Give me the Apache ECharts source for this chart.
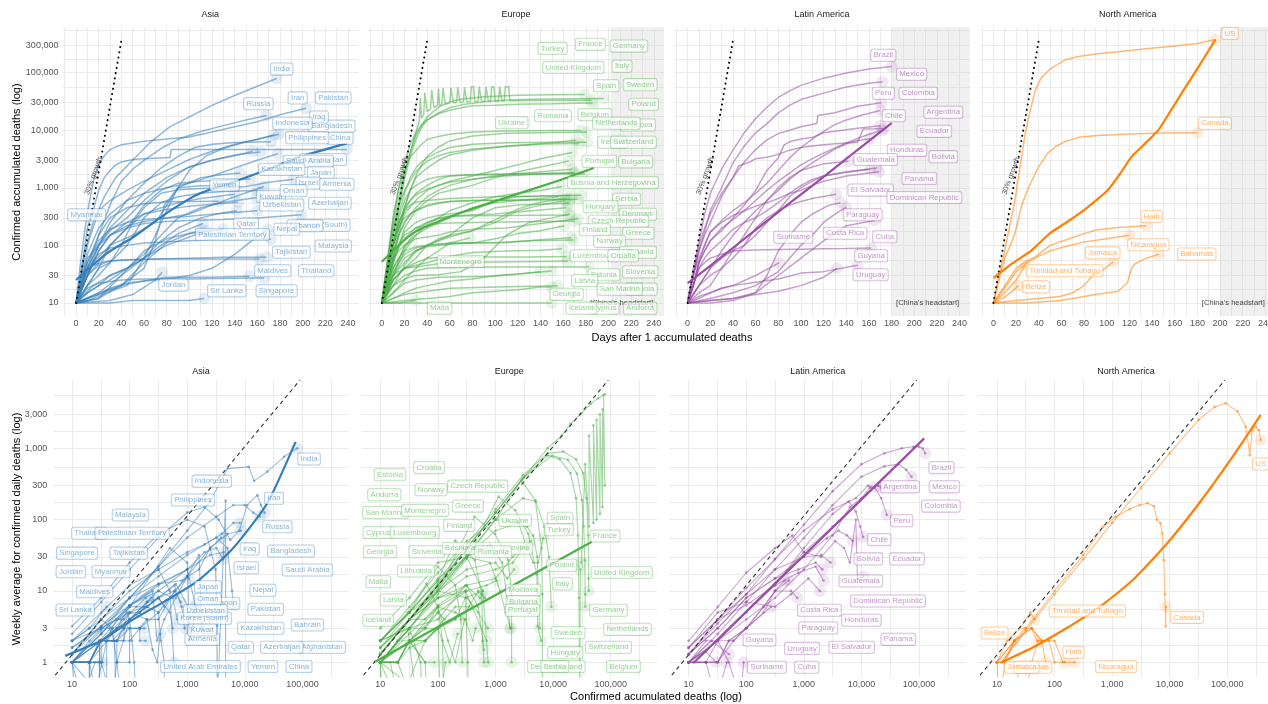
<!DOCTYPE html>
<html><head><meta charset="utf-8">
<script src="https://cdn.jsdelivr.net/npm/echarts@6/dist/echarts.min.js"></script>
<style>html,body{margin:0;padding:0;background:#fff}#c{width:1268px;height:704px}</style>
</head><body><div id="c"></div>
<script>
// ---------------- data ----------------
const REGIONS = ['Asia', 'Europe', 'Latin America', 'North America'];
const TOP_X_TICKS = [0,20,40,60,80,100,120,140,160,180,200,220,240];
const TOP_Y_TICKS = [10,30,100,300,1000,3000,10000,30000,100000,300000];
const BOT_X_TICKS = [10,100,1000,10000,100000];
const BOT_Y_TICKS = [1,3,10,30,100,300,1000,3000];
const GROWTH_LINE = [[0,10],[40,360000]];
const WEEK_LINE = [[5.1,0.66],[90800,9080]];
const HEADSTART_DAY = [null, 202, 180, 200];

// top row: [country, [[days, accumulated deaths], ...]]
const ASIA_TOP = [
 ['Kyrgyzstan', [[0,10],[20,14],[40,20],[60,40],[70,120],[78,500],[90,1000],[110,1080],[140,1100]]],
 ['Qatar', [[0,10],[20,12],[40,20],[60,50],[80,110],[100,160],[130,190]]],
 ['Bahrain', [[0,10],[20,12],[40,30],[60,80],[80,130],[110,180]]],
 ['United Arab Emirates', [[0,10],[10,30],[20,80],[30,150],[45,220],[60,260],[80,300],[100,320],[130,360],[160,400]]],
 ['India', [[0,10],[8,80],[15,250],[25,700],[35,1500],[50,3000],[65,6000],[83,11500],[100,17000],[120,27000],[140,40000],[160,58000],[177,79000]]],
 ['Iran', [[0,10],[4,50],[8,200],[12,600],[16,1500],[20,2500],[25,3600],[30,4600],[40,5600],[60,6400],[80,7000],[100,7600],[120,9300],[140,11500],[160,14000],[180,18500],[203,24000]]],
 ['Russia', [[0,10],[10,40],[20,150],[30,500],[40,1300],[50,2100],[60,3000],[75,4800],[90,6900],[110,9500],[130,12000],[150,15000],[168,18000]]],
 ['Pakistan', [[0,10],[10,40],[20,100],[30,250],[45,600],[60,1200],[75,2200],[90,3500],[105,5000],[120,5700],[140,6100],[172,6300]]],
 ['Iraq', [[0,10],[15,50],[30,100],[50,150],[70,250],[85,700],[100,2000],[115,3600],[130,4800],[150,6300],[179,8500]]],
 ['Indonesia', [[0,10],[10,100],[20,400],[30,600],[45,900],[60,1300],[80,2000],[100,3100],[120,4300],[140,5700],[160,6900],[175,8300]]],
 ['Bangladesh', [[0,10],[10,30],[20,100],[30,200],[45,400],[60,800],[80,1500],[100,2300],[120,3000],[140,3600],[156,4300]]],
 ['Philippines', [[0,10],[10,70],[20,200],[30,350],[45,600],[60,800],[80,1000],[100,1200],[120,1600],[140,2200],[160,3000],[178,3900]]],
 ['China', [[0,10],[5,40],[10,200],[15,400],[20,900],[25,1500],[30,2000],[35,2500],[40,2800],[50,3100],[60,3200],[70,3270],[83,3340],[84,4640],[239,4640]]],
 ['Saudi Arabia', [[0,10],[10,40],[20,100],[30,180],[45,300],[60,600],[80,1300],[100,2300],[120,3000],[140,3700],[163,4200]]],
 ['Afghanistan', [[0,10],[10,30],[20,50],[30,100],[45,200],[60,500],[75,900],[90,1200],[110,1300],[130,1350],[154,1420]]],
 ['Kazakhstan', [[0,10],[15,20],[30,30],[45,40],[60,60],[70,150],[80,400],[90,1000],[110,1500],[130,1700],[145,1800]]],
 ['Japan', [[0,10],[10,20],[20,40],[30,50],[40,100],[50,250],[60,450],[75,800],[90,920],[110,970],[130,1000],[150,1050],[170,1250],[192,1400]]],
 ['Israel', [[0,10],[10,50],[20,120],[30,190],[45,250],[60,280],[80,300],[100,350],[120,500],[140,700],[166,1050]]],
 ['Armenia', [[0,10],[10,20],[20,30],[30,50],[45,100],[60,300],[75,550],[90,700],[110,800],[130,860],[160,900]]],
 ['Yemen', [[0,10],[10,50],[20,150],[30,300],[45,450],[60,530],[80,570],[100,580],[126,585]]],
 ['Oman', [[0,10],[10,20],[20,40],[30,100],[45,200],[60,350],[75,450],[90,550],[110,650],[140,770]]],
 ['Kuwait', [[0,10],[10,30],[20,80],[30,150],[45,250],[60,350],[80,420],[100,480],[120,520],[143,560]]],
 ['Uzbekistan', [[0,10],[10,11],[20,13],[30,16],[45,20],[60,60],[75,120],[90,200],[110,300],[130,370],[142,400]]],
 ['Azerbaijan', [[0,10],[10,15],[20,20],[30,30],[45,40],[60,70],[75,150],[90,300],[110,450],[130,560],[159,670]]],
 ['Korea (South)', [[0,10],[10,60],[20,100],[30,150],[45,200],[60,240],[80,260],[100,270],[130,280],[160,300],[199,340]]],
 ['Lebanon', [[0,10],[10,18],[20,22],[40,25],[60,26],[80,26],[100,30],[120,40],[140,70],[155,120],[169,190]]],
 ['Nepal', [[0,10],[10,15],[20,20],[30,25],[45,40],[60,60],[75,100],[90,160],[112,240]]],
 ['Palestinian Territory', [[0,10],[20,15],[40,30],[60,60],[80,100],[100,140],[115,180]]],
 ['Malaysia', [[0,10],[10,40],[20,70],[30,90],[45,100],[60,110],[80,115],[100,120],[120,125],[150,127],[172,128]]],
 ['Tajikistan', [[0,10],[8,30],[15,45],[25,52],[40,55],[70,58],[100,60],[130,62],[168,62]]],
 ['Thailand', [[0,10],[10,30],[20,45],[30,54],[50,57],[80,58],[120,58],[162,58]]],
 ['Maldives', [[0,10],[20,15],[40,20],[60,24],[80,28],[120,28],[153,29]]],
 ['Singapore', [[0,10],[10,12],[20,14],[30,18],[40,21],[50,23],[60,24],[80,26],[100,26],[150,27],[166,27]]],
 ['Jordan', [[0,10],[30,11],[50,14],[70,25],[76,34]]],
 ['Sri Lanka', [[0,10],[30,10],[50,11],[80,11],[100,11],[113,12]]],
 ['Myanmar', [[0,10],[3,15],[6,25],[8,40]]]
];
const EUROPE_TOP = [
 ['United Kingdom', [[0,10],[5,50],[10,230],[15,700],[20,1800],[25,4000],[30,8000],[35,12000],[40,17000],[50,25000],[60,31000],[70,34500],[90,38000],[120,40500],[150,41300],[179,41600]]],
 ['Italy', [[0,10],[5,30],[10,150],[15,450],[20,1400],[25,3400],[30,6800],[35,11000],[40,15000],[50,20000],[60,24500],[70,27500],[90,31000],[120,34000],[150,34900],[196,35500]]],
 ['France', [[0,10],[5,40],[10,150],[15,500],[20,1700],[25,4200],[30,9000],[33,14000],[34,36000],[35,16000],[37,19000],[38,45000],[39,45000],[40,21000],[43,23500],[44,50000],[45,50000],[46,25000],[49,26500],[50,53000],[51,27000],[53,28000],[54,54000],[55,54000],[56,28500],[60,29500],[61,55000],[62,55000],[63,30000],[66,30300],[67,56000],[68,56000],[69,30600],[72,30800],[73,56000],[74,56000],[75,31000],[78,31200],[79,57000],[81,57000],[82,31400],[85,31500],[86,57000],[87,57000],[88,31600],[91,31700],[92,57000],[93,57000],[94,31800],[96,31900],[97,57000],[99,57000],[100,32000],[103,32100],[104,57000],[105,57000],[106,32200],[108,32300],[109,57000],[112,57000],[113,32400],[140,32800],[185,33200]]],
 ['Spain', [[0,10],[5,50],[10,300],[15,1000],[20,2700],[25,5700],[30,9000],[35,12400],[40,15200],[50,19300],[60,22200],[70,24500],[80,26600],[100,27100],[120,28300],[150,28700],[186,29700]]],
 ['Belgium', [[0,10],[5,60],[10,300],[15,1000],[20,2000],[25,3400],[30,4400],[35,5700],[40,6900],[50,7800],[60,8500],[80,9300],[110,9700],[150,9850],[176,9900]]],
 ['Germany', [[0,10],[5,20],[10,60],[15,150],[20,450],[25,900],[30,1600],[35,2500],[40,3500],[50,5100],[60,6500],[80,7900],[110,8800],[150,9100],[181,9300]]],
 ['Netherlands', [[0,10],[5,40],[10,100],[15,350],[20,800],[25,1500],[30,2200],[35,2800],[40,3300],[50,4200],[60,5000],[80,5700],[110,6050],[150,6150],[181,6200]]],
 ['Sweden', [[0,10],[5,25],[10,70],[15,200],[20,450],[25,900],[30,1500],[40,2200],[50,3000],[60,3700],[80,4500],[110,5300],[140,5750],[174,5850]]],
 ['Turkey', [[0,10],[5,50],[10,200],[15,500],[20,900],[25,1300],[30,1900],[40,2900],[50,3600],[60,4100],[80,4700],[110,5200],[140,5800],[171,6700]]],
 ['Romania', [[0,10],[5,30],[10,100],[15,200],[20,350],[30,600],[40,900],[50,1100],[60,1300],[80,1600],[100,2000],[120,2500],[140,3200],[168,4100]]],
 ['Ukraine', [[0,10],[5,20],[10,50],[15,100],[20,200],[30,400],[40,600],[50,800],[60,900],[80,1100],[100,1500],[120,1900],[140,2300],[165,2900]]],
 ['Poland', [[0,10],[5,20],[10,60],[15,150],[20,250],[30,450],[40,700],[50,900],[60,1100],[80,1400],[100,1600],[120,1750],[140,1900],[168,2100]]],
 ['Ireland', [[0,10],[5,30],[10,100],[15,250],[20,400],[25,600],[30,800],[40,1100],[50,1400],[60,1600],[80,1700],[110,1750],[140,1775],[170,1780]]],
 ['Switzerland', [[0,10],[5,30],[10,100],[15,300],[20,600],[25,900],[30,1100],[40,1400],[50,1550],[60,1620],[80,1660],[110,1690],[140,1720],[179,1760]]],
 ['Portugal', [[0,10],[5,30],[10,100],[15,250],[20,450],[25,600],[30,750],[40,950],[50,1100],[60,1250],[80,1400],[100,1550],[120,1650],[140,1750],[170,1840]]],
 ['Moldova', [[0,10],[10,30],[20,80],[30,150],[40,230],[50,300],[60,400],[80,550],[100,700],[120,800],[140,900],[159,1050]]],
 ['Bulgaria', [[0,10],[10,20],[20,45],[30,80],[40,100],[50,120],[60,140],[80,180],[100,280],[120,430],[140,560],[162,650]]],
 ['Bosnia and Herzegovina', [[0,10],[10,25],[20,40],[30,60],[40,100],[50,130],[60,150],[80,180],[100,250],[120,400],[140,500],[162,600]]],
 ['Serbia', [[0,10],[5,20],[10,50],[15,100],[20,170],[30,250],[40,300],[50,330],[60,350],[80,400],[100,600],[120,700],[140,720],[167,735]]],
 ['Hungary', [[0,10],[5,30],[10,80],[15,150],[20,250],[25,350],[30,400],[40,500],[50,550],[60,580],[80,600],[110,610],[140,620],[166,630]]],
 ['Denmark', [[0,10],[5,40],[10,100],[15,200],[20,300],[25,350],[30,400],[40,480],[50,540],[60,580],[80,600],[110,610],[140,620],[173,630]]],
 ['Austria', [[0,10],[5,30],[10,100],[15,250],[20,400],[25,500],[30,560],[40,600],[60,650],[100,700],[140,720],[176,745]]],
 ['Czech Republic', [[0,10],[5,20],[10,50],[15,90],[20,130],[30,200],[40,250],[50,290],[60,320],[80,340],[100,350],[120,380],[140,410],[163,450]]],
 ['Finland', [[0,10],[5,20],[10,40],[15,60],[20,90],[30,180],[40,250],[50,300],[60,320],[80,328],[110,330],[140,334],[165,336]]],
 ['Greece', [[0,10],[5,30],[10,60],[15,80],[20,100],[30,130],[40,140],[50,150],[60,170],[80,190],[110,200],[140,240],[173,290]]],
 ['Norway', [[0,10],[5,20],[10,60],[15,100],[20,150],[30,200],[40,220],[50,240],[60,245],[80,250],[110,255],[140,260],[170,264]]],
 ['Albania', [[0,10],[10,20],[20,26],[30,30],[50,31],[70,35],[90,60],[110,150],[130,250],[150,300],[166,350]]],
 ['North Macedonia', [[0,10],[10,30],[20,60],[30,80],[40,100],[60,150],[80,300],[100,450],[120,500],[140,520],[165,540]]],
 ['Belarus', [[0,10],[10,30],[20,100],[30,150],[40,200],[60,300],[80,450],[100,550],[120,600],[156,700]]],
 ['Croatia', [[0,10],[10,30],[20,50],[30,80],[40,95],[60,105],[80,110],[100,130],[120,160],[140,180],[161,220]]],
 ['Luxembourg', [[0,10],[5,20],[10,40],[15,60],[20,80],[30,95],[40,100],[50,105],[70,110],[100,112],[130,120],[169,124]]],
 ['Slovenia', [[0,10],[5,20],[10,35],[15,50],[20,70],[30,90],[40,100],[60,110],[80,110],[110,111],[140,125],[167,135]]],
 ['Lithuania', [[0,10],[5,15],[10,25],[20,40],[30,45],[40,50],[60,65],[80,75],[110,80],[140,82],[159,87]]],
 ['Estonia', [[0,10],[5,15],[10,25],[20,40],[30,50],[40,60],[60,63],[100,63],[130,63],[163,64]]],
 ['Montenegro', [[0,10],[10,15],[20,25],[30,40],[40,60],[50,80],[60,110],[78,135]]],
 ['Latvia', [[0,10],[10,12],[20,15],[30,18],[40,20],[60,24],[80,26],[100,30],[120,32],[140,35]]],
 ['San Marino', [[0,10],[5,15],[10,20],[15,25],[20,30],[30,36],[40,40],[60,41],[100,42],[150,42],[183,42]]],
 ['Andorra', [[0,10],[5,20],[10,30],[15,35],[20,40],[30,42],[50,48],[80,51],[120,52],[164,53]]],
 ['Slovakia', [[0,10],[10,15],[20,22],[30,25],[50,28],[100,29],[150,36]]],
 ['Cyprus', [[0,10],[10,12],[20,14],[30,15],[60,18],[100,19],[155,20]]],
 ['Georgia', [[0,10],[20,11],[40,12],[60,13],[80,15],[100,16],[120,17],[140,19],[150,19]]],
 ['Malta', [[0,10],[15,10],[30,11]]],
 ['Iceland', [[0,10],[50,10],[100,10],[150,10]]]
];
const LATAM_TOP = [
 ['Brazil', [[0,10],[5,40],[10,110],[15,350],[20,800],[25,1300],[30,2100],[40,4500],[50,9000],[60,16000],[70,25000],[80,37000],[90,48000],[100,60000],[120,80000],[140,98000],[160,115000],[180,128000]]],
 ['Mexico', [[0,10],[5,30],[10,80],[15,170],[20,400],[30,1000],[40,2700],[50,5300],[60,9000],[70,13000],[80,20000],[90,27000],[100,34000],[120,44000],[140,56000],[160,65000],[172,69000]]],
 ['Peru', [[0,10],[5,30],[10,80],[15,150],[20,250],[30,700],[40,1500],[50,2800],[60,4600],[70,6800],[80,8700],[90,10000],[100,11500],[114,13000],[115,18000],[130,20000],[150,26000],[171,30000]]],
 ['Colombia', [[0,10],[5,20],[10,50],[15,100],[20,170],[30,270],[40,400],[50,550],[60,800],[70,1200],[80,2000],[90,3300],[100,5000],[110,7000],[120,9500],[130,12500],[140,15000],[155,18500],[170,22000]]],
 ['Argentina', [[0,10],[5,20],[10,50],[15,80],[20,120],[30,200],[40,280],[50,400],[60,600],[70,900],[80,1300],[90,1800],[100,2500],[110,3200],[120,4000],[130,4900],[140,6000],[150,7200],[160,8500],[172,10000]]],
 ['Chile', [[0,10],[5,20],[10,50],[15,80],[20,120],[30,180],[40,300],[50,500],[60,900],[70,2000],[80,3300],[85,5500],[90,6300],[100,7000],[110,7500],[120,9000],[130,9600],[140,10200],[150,10800],[160,11300],[170,11900]]],
 ['Ecuador', [[0,10],[5,30],[10,100],[15,200],[20,350],[30,800],[40,1500],[45,2400],[55,2800],[60,3200],[70,3400],[80,3800],[90,4500],[100,5000],[110,5300],[120,5600],[130,5800],[140,6000],[150,6200],[155,10500],[165,10600],[173,10700]]],
 ['Bolivia', [[0,10],[10,20],[20,40],[30,80],[40,150],[50,250],[60,400],[70,600],[80,900],[90,1400],[100,2000],[110,2700],[120,3600],[130,4700],[140,5800],[150,6600],[161,7100]]],
 ['Guatemala', [[0,10],[10,20],[20,30],[30,40],[40,80],[50,150],[60,300],[70,600],[80,1000],[90,1500],[100,2000],[110,2300],[120,2600],[142,2900]]],
 ['Honduras', [[0,10],[10,20],[20,40],[30,60],[40,80],[50,100],[60,150],[70,250],[80,400],[90,700],[100,1000],[110,1300],[120,1600],[140,1850],[161,2100]]],
 ['Panama', [[0,10],[5,20],[10,40],[15,60],[20,80],[30,120],[40,190],[50,250],[60,300],[70,400],[80,550],[90,800],[100,1100],[110,1400],[120,1600],[140,1900],[167,2200]]],
 ['Dominican Republic', [[0,10],[5,30],[10,60],[15,100],[20,170],[30,250],[40,330],[50,400],[60,480],[70,550],[80,650],[90,800],[100,900],[110,1100],[120,1300],[140,1600],[169,1900]]],
 ['El Salvador', [[0,10],[10,15],[20,20],[30,40],[40,60],[50,100],[60,200],[70,300],[80,400],[90,500],[100,580],[110,650],[131,770]]],
 ['Venezuela', [[0,10],[20,10],[40,11],[60,15],[80,30],[100,60],[120,120],[140,220],[165,270]]],
 ['Paraguay', [[0,10],[20,12],[40,15],[60,20],[80,35],[90,60],[100,100],[110,150],[120,250],[130,350],[140,460]]],
 ['Costa Rica', [[0,10],[20,11],[40,12],[60,15],[70,30],[80,80],[90,150],[100,250],[110,350],[125,500],[135,550]]],
 ['Cuba', [[0,10],[5,20],[10,40],[15,50],[20,60],[30,70],[40,80],[60,83],[80,85],[100,86],[120,87],[140,88],[162,90]]],
 ['Suriname', [[0,10],[10,13],[20,15],[30,18],[40,20],[60,30],[81,50]]],
 ['Guyana', [[0,10],[20,11],[40,12],[60,14],[80,16],[100,20],[120,28],[132,40]]],
 ['Uruguay', [[0,10],[10,12],[20,15],[30,18],[40,20],[60,23],[80,26],[100,33],[120,35],[150,45]]]
];
const NAMER_TOP = [
 ['US', [[0,10],[5,30],[10,80],[15,250],[19,600],[22,1500],[25,3500],[28,8700],[32,20000],[37,50000],[42,80000],[50,115000],[63,165000],[75,190000],[92,212000],[110,230000],[137,262000],[160,290000],[180,320000],[196,376000]]],
 ['Canada', [[0,10],[5,25],[10,60],[15,100],[19,160],[25,500],[30,900],[34,1350],[40,2300],[48,4000],[55,5200],[63,6300],[75,7500],[92,8100],[120,8600],[150,8900],[180,9000]]],
 ['Haiti', [[0,10],[10,20],[20,40],[30,55],[37,63],[50,100],[63,123],[80,160],[92,186],[110,205],[135,220]]],
 ['Nicaragua', [[0,10],[10,18],[20,35],[30,50],[40,65],[50,80],[63,95],[80,115],[100,130],[120,150]]],
 ['Bahamas', [[0,10],[30,10],[59,11],[70,12],[90,14],[110,16],[118,22],[122,40],[125,48],[135,60],[146,70]]],
 ['Jamaica', [[0,10],[20,11],[40,12],[59,13],[70,15],[80,20],[87,29],[95,35],[106,52]]],
 ['Trinidad and Tobago', [[0,10],[10,15],[20,25],[28,45]]],
 ['Belize', [[0,10],[8,12],[15,15],[22,20]]]
];
// smoothed regional trends, top row
const ASIA_TOP_TREND = [[0,25],[27,72],[51,141],[80,363],[109,794],[139,1260],[168,2040],[198,3470],[239,5900]];
const EUROPE_TOP_TREND = [[0,52],[28,165],[69,365],[113,710],[157,1350],[187,2200]];
const LATAM_TOP_TREND = [[0,22],[30,63],[62,200],[90,540],[120,1550],[150,4570],[180,13200]];
const NAMER_TOP_TREND = [[0,27],[17,49],[34,83],[50,163],[63,240],[80,410],[101,912],[112,1780],[122,3470],[134,5900],[145.5,10000],[156,21000],[166,43600],[181,126000],[196,376000]];

// bottom row: [country, [[accumulated deaths, weekly average daily deaths], ...]]
const ASIA_BOT = [
 ['Kyrgyzstan', [[10,1],[20,1],[20,0.3],[30,0.3],[30,2],[100,6],[500,40],[1000,25],[1100,3]]],
 ['Qatar', [[10,1],[30,1],[30,2],[60,2],[60,1],[100,1],[100,3],[150,3],[150,2],[190,2]]],
 ['United Arab Emirates', [[10,2],[32,3],[60,4],[100,6],[200,6],[316,5],[350,2],[400,1],[400,0.3]]],
 ['Bahrain', [[10,1],[20,1],[20,0.3],[40,0.3],[40,2],[80,2],[80,3],[150,3],[180,3]]],
 ['India', [[10,1],[32,2.8],[100,8],[316,22],[1000,70],[2500,180],[5000,520],[11700,550],[14500,350],[24500,470],[48000,760],[81000,1000]]],
 ['Iran', [[10,2.5],[32,7],[100,20],[316,56],[1000,126],[2000,150],[3500,100],[5600,52],[8000,70],[11000,160],[16500,220],[19000,160],[22000,125]]],
 ['Russia', [[10,1],[32,2.5],[100,8],[316,22],[1000,56],[3200,110],[6300,160],[10000,160],[14000,125],[18000,110]]],
 ['Indonesia', [[10,1.3],[32,4],[100,10],[316,20],[1000,35],[2000,45],[4000,63],[6300,90],[8300,90]]],
 ['Philippines', [[10,1.6],[32,3.2],[100,8],[316,12.6],[800,14],[1600,20],[2500,40],[3900,56]]],
 ['Iraq', [[10,1],[20,1],[32,1],[32,2],[60,2],[100,2],[150,3],[200,4],[316,4],[600,10],[1000,16],[2500,40],[5000,63],[8500,70]]],
 ['Bangladesh', [[10,1.3],[32,3.2],[100,6.3],[316,10],[1000,20],[2500,32],[4300,35]]],
 ['Saudi Arabia', [[10,1],[32,2.5],[100,6.3],[316,12.6],[1000,20],[2000,35],[3200,40],[4200,28]]],
 ['Pakistan', [[10,1.3],[32,4],[100,8],[316,16],[1000,32],[3200,56],[5000,40],[6000,10],[6300,6.3]]],
 ['Japan', [[10,1],[32,2],[100,4],[316,8],[630,12.6],[1000,6.3],[1100,2],[1260,3.2],[1400,6.3]]],
 ['China', [[10,3.2],[32,8],[100,25],[316,63],[1000,100],[2000,80],[3100,20],[3300,3.2],[3340,0.3],[4632,184],[4632,0.3]]],
 ['Kazakhstan', [[10,1],[20,1],[32,2],[60,2],[100,3],[150,3],[316,5],[1000,16],[1600,32],[1800,3]]],
 ['Israel', [[10,1],[32,2.5],[100,6.3],[250,10],[300,2],[400,4],[630,8],[1000,16],[1050,15]]],
 ['Armenia', [[10,1],[32,2],[60,3],[100,4],[200,6],[316,8],[600,12],[800,6],[900,3]]],
 ['Yemen', [[10,2],[32,5],[100,12],[316,20],[500,10],[585,1]]],
 ['Oman', [[10,1],[20,1],[30,2],[50,2],[80,3],[100,4],[150,5],[200,6],[316,8],[600,10],[770,7]]],
 ['Kuwait', [[10,1],[20,1],[32,2],[60,3],[100,4],[150,5],[250,7],[316,8],[500,5],[560,3]]],
 ['Uzbekistan', [[10,1],[20,1],[32,1],[50,0.3],[60,1],[100,4],[200,7],[316,8],[400,6]]],
 ['Azerbaijan', [[10,1],[20,1],[32,2],[60,2],[100,4],[200,7],[316,10],[560,8],[670,4]]],
 ['Korea (South)', [[10,1.6],[32,3],[100,5],[200,4],[250,1.5],[300,1],[340,2.5]]],
 ['Lebanon', [[10,1],[26,0.4],[40,2],[80,4],[130,6],[190,8]]],
 ['Nepal', [[10,1],[20,1],[40,2],[60,2],[100,5],[150,5],[240,8]]],
 ['Malaysia', [[10,1],[20,1],[30,2],[40,2],[50,3],[60,4],[70,4],[90,5],[100,4],[110,2],[120,1],[128,0.3]]],
 ['Palestinian Territory', [[10,1],[32,2],[100,5],[180,6]]],
 ['Tajikistan', [[10,2],[20,3],[32,4],[50,3],[60,1],[72,0.3]]],
 ['Thailand', [[10,1],[20,2],[32,3],[45,3],[54,2],[58,0.3]]],
 ['Singapore', [[10,1],[20,1],[27,0.3]]],
 ['Jordan', [[10,1],[15,0.3],[25,1],[34,1]]],
 ['Maldives', [[10,1],[20,1],[30,1],[30,0.3]]],
 ['Sri Lanka', [[10,1],[12,0.3]]],
 ['Myanmar', [[10,2],[20,3],[40,6]]],
 ['Afghanistan', [[10,1],[20,1],[32,2],[60,3],[100,6],[316,12],[1000,20],[1400,6]]]
];
const EUROPE_BOT = [
 ['France', [[10,1.3],[32,4],[100,12],[316,40],[1000,125],[3000,380],[8000,1000],[14000,1500],[20000,2200],[30000,3000],[45000,4200],[60000,5000],[75000,5600],[79000,5700],[79000,300],[72000,3500],[72000,150],[65000,3000],[65000,120],[57000,2500],[57000,100],[50000,2100],[50000,90],[42000,1500],[42000,80],[36000,600],[30800,25]]],
 ['Italy', [[10,1.3],[32,4],[100,12],[316,40],[1000,125],[3000,380],[9500,790],[18000,690],[26000,440],[31600,187],[34000,80],[35500,27],[36000,9],[36000,6]]],
 ['United Kingdom', [[10,1.6],[32,5],[100,14],[316,45],[1000,140],[3000,420],[8000,850],[15000,900],[25000,700],[33000,450],[38000,200],[40500,60],[41300,15],[41600,10]]],
 ['Spain', [[10,1.3],[32,4],[100,13],[316,40],[1000,125],[3160,400],[8000,800],[13000,700],[20000,450],[25000,200],[27000,60],[28000,8],[29000,0.3],[29700,20]]],
 ['Belgium', [[10,1.3],[32,4],[100,11],[316,32],[1000,100],[2800,355],[4900,186],[6300,40],[6500,9],[6500,0.3]]],
 ['Germany', [[10,1],[32,3],[100,10],[316,30],[1000,100],[3000,200],[5000,180],[7000,80],[8500,30],[9300,6]]],
 ['Netherlands', [[10,1],[32,3],[100,9],[316,28],[1130,210],[2200,135],[3700,63],[5200,17],[5400,3.2],[6200,2]]],
 ['Sweden', [[10,1.3],[32,4],[100,10],[316,30],[1000,70],[2500,90],[3500,80],[4500,60],[5300,30],[5850,3]]],
 ['Switzerland', [[10,1.3],[32,4],[100,10],[430,110],[980,63],[1660,27],[1900,9],[1900,3],[1900,1]]],
 ['Ireland', [[10,1.6],[32,4],[100,12],[316,30],[800,45],[1300,25],[1600,8],[1780,3]]],
 ['Turkey', [[10,2],[32,6],[100,18],[316,50],[1000,100],[2500,90],[3500,40],[4500,25],[5500,25],[6700,55]]],
 ['Romania', [[10,1],[32,3],[100,8],[316,16],[1000,20],[2000,25],[3000,40],[4100,50]]],
 ['Ukraine', [[10,1],[32,2.5],[100,6.3],[316,12],[1000,15],[2000,30],[2900,40]]],
 ['Poland', [[10,1],[32,3],[100,10],[316,20],[1000,25],[1600,15],[2100,20]]],
 ['Portugal', [[10,2],[32,5],[100,15],[316,30],[800,25],[1200,10],[1500,5],[1840,3]]],
 ['Austria', [[10,3],[32,8],[100,25],[316,30],[600,10],[745,1]]],
 ['Moldova', [[10,1],[20,1],[32,2],[60,3],[100,5],[316,10],[700,12],[1050,14]]],
 ['Bulgaria', [[10,1],[20,1],[32,1.6],[60,2],[100,3],[200,4],[300,5],[500,10],[650,8]]],
 ['Bosnia and Herzegovina', [[10,1],[20,1],[32,2],[60,2],[100,3],[200,4],[300,8],[600,10]]],
 ['Serbia', [[10,2],[32,5],[100,10],[316,8],[500,5],[735,3]]],
 ['Hungary', [[10,1.3],[32,4],[100,8],[316,12],[500,6],[630,1.5]]],
 ['Denmark', [[10,2],[32,5],[100,14],[200,51],[436,27],[575,9],[600,2],[630,1]]],
 ['Czech Republic', [[10,1],[20,1],[32,2],[60,3],[100,6],[200,5],[300,4],[400,2],[450,3]]],
 ['Finland', [[10,1],[32,2],[100,6],[300,10],[330,1],[336,0.3]]],
 ['Greece', [[10,1],[20,2],[32,4],[60,4],[100,6],[150,2],[200,1],[290,4]]],
 ['Norway', [[10,2],[32,5],[100,22],[200,12],[250,4],[264,1]]],
 ['North Macedonia', [[10,1],[32,3],[100,4],[300,12],[540,8]]],
 ['Belarus', [[10,1.6],[32,4],[100,8],[300,10],[700,2]]],
 ['Croatia', [[10,1],[20,1],[32,2],[60,2],[100,3],[160,1],[220,2.5]]],
 ['Albania', [[10,1],[30,0.5],[60,2],[200,6],[350,6]]],
 ['Luxembourg', [[10,2],[30,5],[63,12.6],[100,6],[120,2],[124,0.5]]],
 ['Slovenia', [[10,1],[20,2],[32,3],[60,3],[100,3],[110,0.3],[135,1]]],
 ['Lithuania', [[10,1],[20,1],[32,2],[60,1],[87,1]]],
 ['Estonia', [[10,1],[20,2],[32,2],[60,1],[64,0.3]]],
 ['Montenegro', [[10,1],[32,2],[100,5],[130,4]]],
 ['Latvia', [[10,1],[20,1],[35,0.3]]],
 ['San Marino', [[10,2],[30,3],[42,0.3]]],
 ['Andorra', [[10,2],[32,3],[50,1],[53,0.3]]],
 ['Cyprus', [[10,1],[15,1],[20,0.3]]],
 ['Georgia', [[10,1],[19,0.3]]],
 ['Malta', [[10,1],[11,0.3]]],
 ['Iceland', [[10,1],[10,0.3]]]
];
const LATAM_BOT = [
 ['Brazil', [[10,1.3],[32,3.5],[100,9],[316,28],[1000,85],[3160,250],[10000,600],[25000,850],[50000,1000],[80000,1050],[100000,1050],[115000,1000],[128000,850]]],
 ['Mexico', [[10,1],[32,2.5],[100,7],[316,20],[1000,55],[3160,160],[10000,400],[25000,560],[44000,600],[60000,500],[74000,400]]],
 ['Colombia', [[10,1],[32,2],[100,5],[316,13],[1000,35],[3160,80],[8000,160],[14000,280],[19600,300],[22000,280]]],
 ['Peru', [[10,1.6],[32,4],[100,11],[316,28],[1000,70],[3160,140],[8000,200],[13000,300],[17000,280],[22000,200],[27500,117]]],
 ['Argentina', [[10,1],[32,2],[100,4],[316,8],[1000,20],[3160,60],[6300,150],[10000,200],[17000,290]]],
 ['Chile', [[10,1],[32,2],[100,5],[316,12],[1000,40],[3160,120],[6000,180],[8000,130],[9500,80],[10700,57]]],
 ['Ecuador', [[10,2],[32,6],[100,18],[316,40],[630,60],[1000,35],[2000,30],[3500,50],[5000,40],[6300,25],[8000,100],[8500,15],[10700,16]]],
 ['Bolivia', [[10,1.3],[32,3],[100,8],[316,15],[1000,30],[2500,55],[4000,70],[5600,60],[7100,50]]],
 ['Guatemala', [[10,1.3],[32,4],[100,9],[316,20],[1000,30],[2000,32],[2900,25]]],
 ['Honduras', [[10,1.3],[32,3],[100,8],[316,15],[800,20],[1600,25],[2100,20]]],
 ['Panama', [[10,1.6],[32,4],[100,6.3],[316,12],[800,18],[1600,22],[2200,14]]],
 ['Dominican Republic', [[10,1.6],[32,5],[100,7],[316,6],[600,9],[1200,15],[1900,10]]],
 ['El Salvador', [[10,1],[20,1],[32,2],[60,2],[100,3],[200,5],[316,10],[600,10],[770,8]]],
 ['Paraguay', [[10,1],[20,1],[32,1],[50,2],[100,3],[200,6],[316,10],[460,14]]],
 ['Costa Rica', [[10,1],[20,1],[32,1],[50,2],[100,3],[200,6],[316,10],[550,14]]],
 ['Venezuela', [[10,1],[20,1],[32,1],[60,2],[100,3],[270,6]]],
 ['Cuba', [[10,1],[20,2],[32,2],[50,1],[80,0.3],[90,1]]],
 ['Guyana', [[10,1],[20,1.4],[30,1]]],
 ['Suriname', [[10,1],[25,2],[50,1.3]]],
 ['Uruguay', [[10,1],[20,1],[30,0.3],[46,1]]]
];
const NAMER_BOT = [
 ['US', [[12,1],[32,2.8],[100,9],[316,28],[1000,90],[3160,280],[10000,850],[31600,2500],[60000,3800],[93000,4300],[150000,3300],[209000,2000],[246000,800],[270000,1800],[310000,2000],[350000,1800],[380000,1300]]],
 ['Canada', [[12,1],[32,3],[100,10],[316,32],[700,80],[1150,110],[2000,140],[3000,160],[4100,170],[5300,155],[6000,100],[6900,89],[7400,64],[7900,27],[8200,9],[8500,3.2],[8600,6]]],
 ['Haiti', [[10,1],[20,2],[40,3],[60,2],[100,2],[140,1],[220,1]]],
 ['Jamaica', [[10,1],[20,1],[30,0.3],[40,1],[52,2]]],
 ['Nicaragua', [[10,1],[20,2],[30,3],[40,3],[50,2],[80,2],[100,1],[150,1]]],
 ['Belize', [[10,1],[13,1],[20,2]]],
 ['Trinidad and Tobago', [[10,1],[15,2],[25,3],[38,5],[45,4]]],
 ['Bahamas', [[10,1],[11,0.3],[14,1],[20,2],[40,3],[60,2],[70,1]]]
];
const ASIA_BOT_TREND = [[7.6,1.23],[32,2],[110,3.9],[400,7.1],[1550,14],[6300,40],[24500,170],[76000,1230]];
const EUROPE_BOT_TREND = [[8.1,1.02],[47000,49]];
const LATAM_BOT_TREND = [[12,0.97],[123000,1380]];
const NAMER_BOT_TREND = [[12.6,1.02],[41,1.6],[155,2.95],[590,5.9],[2240,14],[8500,44],[32400,170],[123000,760],[380000,2950]];

// ---------------- layout (label placement, in axis units; y as log10) ----------------
const ASIA_TOP_LBL = [['Qatar',150,2.37],['Korea (South)',218,2.35],['Lebanon',202,2.34],['Nepal',186,2.28],
 ['India',181.5,5.06],['Russia',160.9,4.46],['Iran',195.6,4.56],['Pakistan',227,4.56],['Bangladesh',225.6,4.07],['Iraq',214.4,4.23],
 ['Indonesia',191,4.12],['China',233,3.86],['Philippines',204,3.87],['Afghanistan',218,3.49],['Saudi Arabia',205,3.46],['Kazakhstan',181.5,3.32],
 ['Japan',216,3.26],['Israel',205,3.08],['Armenia',230,3.06],['Yemen',131,3.05],['Kuwait',172,2.85],['Oman',192,2.95],['Azerbaijan',224,2.73],
 ['Uzbekistan',181.5,2.70],['Myanmar',9.4,2.53],['Palestinian Territory',138,2.19],['Malaysia',227,1.99],['Tajikistan',190,1.88],
 ['Maldives',173.5,1.56],['Thailand',212,1.56],['Jordan',86,1.31],['Sri Lanka',133,1.21],['Singapore',177,1.21]];
const EUROPE_TOP_LBL = [['Turkey',150.7,5.42],['France',184,5.49],['Germany',218,5.46],['United Kingdom',169,5.09],['Italy',212,5.11],
 ['Spain',198,4.77],['Sweden',228,4.79],['Poland',231,4.45],['Ukraine',114.6,4.13],['Romania',151,4.25],['Belgium',188,4.27],['Moldova',226,4.09],
 ['Netherlands',207,4.12],['Ireland',203.6,3.79],['Switzerland',222,3.79],['Bulgaria',224,3.45],['Portugal',192,3.46],['Bosnia and Herzegovina',204,3.09],
 ['Serbia',216,2.80],['Hungary',193,2.67],['Denmark',226,2.54],['Czech Republic',209,2.42],['Finland',188,2.27],['Greece',226.4,2.21],['Norway',201,2.07],
 ['Lithuania',226,1.88],['Luxembourg',187.7,1.82],['Croatia',213,1.82],['Montenegro',69.6,1.72],['Slovenia',228,1.54],['Estonia',196,1.49],['Latvia',179,1.39],
 ['Georgia',163,1.15],['Albania',229,1.24],['San Marino',210,1.24],['Malta',51,0.91],['Cyprus',196,0.91],['Iceland',176,0.91],['Andorra',228,0.91]];
const LATAM_TOP_LBL = [['Brazil',172.7,5.30],['Mexico',197.7,4.97],['Peru',172.7,4.64],['Colombia',203.6,4.64],['Argentina',225.6,4.31],['Chile',182,4.25],
 ['Ecuador',217.7,3.98],['Honduras',193.6,3.65],['Bolivia',225.6,3.54],['Guatemala',166,3.49],['Panama',204.5,3.16],['El Salvador',161.5,2.96],
 ['Dominican Republic',208.9,2.83],['Paraguay',154.5,2.53],['Costa Rica',139,2.21],['Suriname',93.3,2.14],['Cuba',174,2.15],['Guyana',162,1.82],['Uruguay',161.5,1.49]];
const NAMER_TOP_LBL = [['US',208.8,5.68],['Canada',195.5,4.12],['Haiti',139.6,2.50],['Nicaragua',136.7,2.01],['Bahamas',179.4,1.85],['Jamaica',96.4,1.87],
 ['Trinidad and Tobago',63,1.56],['Belize',37.6,1.28]];
const ASIA_BOT_LBL = [['India',5.115,2.85],['Indonesia',3.426,2.54],['Philippines',3.10,2.275],['Iran',4.506,2.30],['Malaysia',2.014,2.065],['Russia',4.565,1.90],
 ['Thailand',1.30,1.81],['Palestinian Territory',2.043,1.81],['Singapore',1.087,1.53],['Tajikistan',1.985,1.53],['Iraq',4.083,1.59],['Bangladesh',4.80,1.56],
 ['Jordan',0.98,1.27],['Myanmar',1.678,1.27],['Israel',4.026,1.326],['Saudi Arabia',5.087,1.294],['Maldives',1.393,0.99],['Japan',3.358,1.06],['Nepal',4.315,1.01],
 ['Lebanon',3.60,0.827],['Oman',3.358,0.883],['Sri Lanka',1.057,0.733],['Korea (South)',3.30,0.617],['Uzbekistan',3.318,0.723],['Pakistan',4.362,0.743],
 ['Armenia',3.26,0.322],['Kuwait',3.26,0.453],['Kazakhstan',4.275,0.477],['Bahrain',5.087,0.523],['Qatar',3.93,0.21],['Afghanistan',5.34,0.21],['Azerbaijan',4.64,0.21],
 ['United Arab Emirates',3.23,-0.06],['Yemen',4.315,-0.06],['China',4.94,-0.06]];
const EUROPE_BOT_LBL = [['Estonia',1.168,2.63],['Croatia',1.845,2.73],['Andorra',1.07,2.35],['Norway',1.88,2.42],['Czech Republic',2.69,2.47],['San Marino',1.09,2.10],
 ['Montenegro',1.776,2.13],['Greece',2.52,2.19],['Finland',2.37,1.92],['Cyprus',0.965,1.82],['Luxembourg',1.60,1.82],['Ukraine',3.34,1.99],['Spain',4.12,2.02],
 ['Turkey',4.10,1.86],['France',4.90,1.77],['Georgia',0.995,1.55],['Slovenia',1.805,1.55],['Bosnia and Herzegovina',2.86,1.60],['Romania',2.96,1.55],['Poland',4.15,1.36],
 ['Lithuania',1.62,1.28],['United Kingdom',5.19,1.26],['Malta',0.965,1.13],['Italy',4.16,1.10],['Moldova',3.48,1.01],['Latvia',1.225,0.874],['Bulgaria',3.48,0.85],
 ['Portugal',3.47,0.73],['Germany',4.96,0.73],['Iceland',0.965,0.59],['Netherlands',5.29,0.462],['Sweden',4.26,0.415],['Switzerland',4.96,0.21],['Hungary',4.21,0.135],
 ['Denmark',3.88,-0.06],['Ireland',4.30,-0.06],['Serbia',4.03,-0.06],['Belgium',5.22,-0.06]];
const LATAM_BOT_LBL = [['Brazil',5.39,2.73],['Argentina',4.67,2.46],['Mexico',5.44,2.46],['Colombia',5.38,2.19],['Peru',4.70,1.985],['Chile',4.31,1.72],
 ['Bolivia',4.12,1.45],['Ecuador',4.79,1.45],['Guatemala',3.99,1.14],['Dominican Republic',4.46,0.86],['Costa Rica',3.27,0.73],['Honduras',4.0,0.59],
 ['Paraguay',3.25,0.48],['Panama',4.64,0.322],['Guyana',2.23,0.312],['Uruguay',2.97,0.195],['El Salvador',3.83,0.21],['Suriname',2.36,-0.07],['Cuba',3.05,-0.07]];
const NAMER_BOT_LBL = [['US',5.58,2.78],['Canada',4.30,0.63],['Trinidad and Tobago',2.57,0.72],['Belize',0.96,0.41],['Haiti',2.33,0.14],
 ['Bahamas',1.62,-0.07],['Jamaica',1.43,-0.07],['Nicaragua',3.07,-0.06]];

const COLORS = ['#377eb8', '#4daf4a', '#984ea3', '#ff7f00'];
const TOP_LEFT = [62.4, 368.2, 674.0, 979.8], TOP_W = 295.8, TOP_T = 27.3, TOP_H = 288.8;
const BOT_LEFT = [53.3, 361.6, 669.9, 978.2], BOT_W = 295.5, BOT_T = 380, BOT_H = 297;
const TOP_X_EXT = [-12, 249], TOP_Y_EXT = [5.916, 611000];
const BOT_X_EXT = [4.73, 638000], BOT_Y_EXT = [0.622, 9078];
const FONT = 'Liberation Sans, Arial, Helvetica, sans-serif';

// ---------------- build ----------------
function rgba(hex, a) { const n = parseInt(hex.slice(1), 16); return 'rgba(' + (n >> 16 & 255) + ',' + (n >> 8 & 255) + ',' + (n & 255) + ',' + a + ')'; }
function inExt(v, e) { return v >= e[0] && v <= e[1]; }
function logGrid(ticks, below, above, ext) {
  const all = [below].concat(ticks, [above]);
  const out = ticks.slice();
  for (let i = 0; i < all.length - 1; i++) out.push(Math.sqrt(all[i] * all[i + 1]));
  return out.filter(v => inExt(v, ext)).sort((a, b) => a - b);
}
const TOP_X_GRID = []; for (let d = -10; d <= 250; d += 10) if (inExt(d, TOP_X_EXT)) TOP_X_GRID.push(d);
const TOP_Y_GRID = logGrid(TOP_Y_TICKS, 3, 1000000, TOP_Y_EXT);
const BOT_X_GRID = logGrid(BOT_X_TICKS, 1, 1000000, BOT_X_EXT);
const BOT_Y_GRID = logGrid(BOT_Y_TICKS, 0.3, 10000, BOT_Y_EXT);
const fmt = v => { const r = v >= 1 ? Math.round(v) : Math.round(v * 10) / 10; return r.toLocaleString('en-US'); };

const TOP_DATA = [ASIA_TOP, EUROPE_TOP, LATAM_TOP, NAMER_TOP];
const TOP_TRENDS = [ASIA_TOP_TREND, EUROPE_TOP_TREND, LATAM_TOP_TREND, NAMER_TOP_TREND];
const TOP_LBLS = [ASIA_TOP_LBL, EUROPE_TOP_LBL, LATAM_TOP_LBL, NAMER_TOP_LBL];
const BOT_DATA = [ASIA_BOT, EUROPE_BOT, LATAM_BOT, NAMER_BOT];
const BOT_TRENDS = [ASIA_BOT_TREND, EUROPE_BOT_TREND, LATAM_BOT_TREND, NAMER_BOT_TREND];
const BOT_LBLS = [ASIA_BOT_LBL, EUROPE_BOT_LBL, LATAM_BOT_LBL, NAMER_BOT_LBL];

const grid = [], xAxis = [], yAxis = [], series = [], graphic = [];
const splitStyle = { show: true, lineStyle: { color: '#ebebeb', width: 1 } };
const labelStyle = { fontSize: 9, color: '#555', fontFamily: FONT };

for (let r = 0; r < 2; r++) {
  for (let p = 0; p < 4; p++) {
    const idx = r * 4 + p;
    const top = r === 0;
    grid.push({ left: (top ? TOP_LEFT : BOT_LEFT)[p], top: top ? TOP_T : BOT_T, width: top ? TOP_W : BOT_W, height: top ? TOP_H : BOT_H, outerBoundsMode: 'none', containLabel: false });
    if (top) {
      xAxis.push({ type: 'value', gridIndex: idx, min: TOP_X_EXT[0], max: TOP_X_EXT[1],
        axisLine: { show: false }, axisTick: { show: false, customValues: TOP_X_GRID },
        axisLabel: Object.assign({ customValues: TOP_X_TICKS, margin: 2.5 }, labelStyle), splitLine: splitStyle, minorSplitLine: { show: false } });
      yAxis.push({ type: 'log', logBase: 10, gridIndex: idx, min: TOP_Y_EXT[0], max: TOP_Y_EXT[1],
        axisLine: { show: false }, axisTick: { show: false, customValues: TOP_Y_GRID },
        axisLabel: Object.assign({ show: p === 0, customValues: TOP_Y_TICKS, margin: 4, formatter: fmt }, labelStyle), splitLine: splitStyle });
    } else {
      xAxis.push({ type: 'log', logBase: 10, gridIndex: idx, min: BOT_X_EXT[0], max: BOT_X_EXT[1],
        axisLine: { show: false }, axisTick: { show: false, customValues: BOT_X_GRID },
        axisLabel: Object.assign({ customValues: BOT_X_TICKS, margin: 3, formatter: fmt }, labelStyle), splitLine: splitStyle });
      yAxis.push({ type: 'log', logBase: 10, gridIndex: idx, min: BOT_Y_EXT[0], max: BOT_Y_EXT[1],
        axisLine: { show: false }, axisTick: { show: false, customValues: BOT_Y_GRID },
        axisLabel: Object.assign({ show: p === 0, customValues: BOT_Y_TICKS, margin: 6, formatter: fmt }, labelStyle), splitLine: splitStyle });
    }
    const col = COLORS[p];
    const base = { xAxisIndex: idx, yAxisIndex: idx, silent: true, animation: false };

    // reference line
    const refSeries = Object.assign({ type: 'line', z: 4, showSymbol: false, data: top ? GROWTH_LINE : WEEK_LINE,
      lineStyle: top ? { color: '#000', width: 2, type: [0.1, 5.2], cap: 'round' } : { color: '#333', width: 1.1, type: [4, 3.5] } }, base);
    if (top && HEADSTART_DAY[p] != null) {
      refSeries.markArea = { silent: true, itemStyle: { color: 'rgba(205,205,205,0.3)' }, data: [[{ xAxis: HEADSTART_DAY[p] }, { xAxis: TOP_X_EXT[1] }]] };
    }
    series.push(refSeries);

    // country lines
    const data = (top ? TOP_DATA : BOT_DATA)[p];
    data.forEach(([name, pts]) => {
      series.push(Object.assign({ type: 'line', name: name, z: 2, data: pts,
        showSymbol: !top, symbol: 'circle', symbolSize: 2.8,
        itemStyle: { color: col, opacity: 0.5 },
        lineStyle: { color: col, width: top ? 1.5 : 1.1, opacity: top ? 0.55 : 0.5 } }, base));
    });
    // end circles
    series.push(Object.assign({ type: 'scatter', z: 3, symbolSize: 12, data: data.map(d => d[1][d[1].length - 1]),
      itemStyle: { color: col, opacity: 0.13 } }, base));
    // trend
    series.push(Object.assign({ type: 'line', z: 5, smooth: 0.2, showSymbol: false, data: (top ? TOP_TRENDS : BOT_TRENDS)[p],
      lineStyle: { color: col, width: 2.2, opacity: 1 } }, base));
    // notes
    if (top) {
      series.push(Object.assign({ type: 'scatter', z: 6, symbolSize: 1, itemStyle: { color: 'rgba(0,0,0,0)' },
        data: [{ value: [15.5, 1600], name: '30% growth' }],
        label: { show: true, position: 'inside', formatter: '{b}', rotate: 70, fontSize: 7.5, color: '#222', fontFamily: FONT } }, base));
      if (HEADSTART_DAY[p] != null) {
        series.push(Object.assign({ type: 'scatter', z: 6, symbolSize: 1, itemStyle: { color: 'rgba(0,0,0,0)' },
          data: [{ value: [240, 10], name: "[China's headstart]" }],
          label: { show: true, position: 'left', distance: 0, formatter: '{b}', fontSize: 7.6, color: '#111', fontFamily: FONT } }, base));
      }
    }
    // country labels
    const lbls = (top ? TOP_LBLS : BOT_LBLS)[p];
    series.push(Object.assign({ type: 'scatter', z: 10, symbolSize: 1, itemStyle: { color: 'rgba(0,0,0,0)' },
      data: lbls.map(([n, x, ly]) => ({ name: n, value: [top ? x : Math.pow(10, x), Math.pow(10, ly)] })),
      label: { show: true, position: 'inside', formatter: '{b}', fontSize: 7.8, fontFamily: FONT, color: rgba(col, 0.75),
        backgroundColor: 'rgba(255,255,255,0.88)', borderColor: rgba(col, 0.5), borderWidth: 0.8, borderRadius: 2, padding: [2, 2.5, 1.5, 2.5] },
      labelLayout: { hideOverlap: false } }, base));

    // strip title
    const gl = (top ? TOP_LEFT : BOT_LEFT)[p], gw = top ? TOP_W : BOT_W;
    graphic.push({ type: 'text', x: gl + gw / 2, y: top ? 15 : 372, silent: true,
      style: { text: REGIONS[p], fontSize: 9, fill: '#1a1a1a', align: 'center', verticalAlign: 'middle', fontFamily: FONT } });
  }
}
graphic.push({ type: 'text', x: 672, y: 338, silent: true, style: { text: 'Days after 1 accumulated deaths', fontSize: 11, fill: '#000', align: 'center', verticalAlign: 'middle', fontFamily: FONT } });
graphic.push({ type: 'text', x: 656, y: 697, silent: true, style: { text: 'Confirmed acumulated deaths (log)', fontSize: 11, fill: '#000', align: 'center', verticalAlign: 'middle', fontFamily: FONT } });
graphic.push({ type: 'text', x: 17, y: 172, rotation: Math.PI / 2, silent: true, style: { text: 'Confirmed accumulated deaths (log)', fontSize: 11, fill: '#000', align: 'center', verticalAlign: 'middle', fontFamily: FONT } });
graphic.push({ type: 'text', x: 17, y: 529, rotation: Math.PI / 2, silent: true, style: { text: 'Weekly average for confirmed daily deaths (log)', fontSize: 11, fill: '#000', align: 'center', verticalAlign: 'middle', fontFamily: FONT } });

const chart = echarts.init(document.getElementById('c'), null, { renderer: 'canvas' });
chart.setOption({ animation: false, backgroundColor: '#fff', textStyle: { fontFamily: FONT }, grid, xAxis, yAxis, series, graphic });
</script></body></html>
